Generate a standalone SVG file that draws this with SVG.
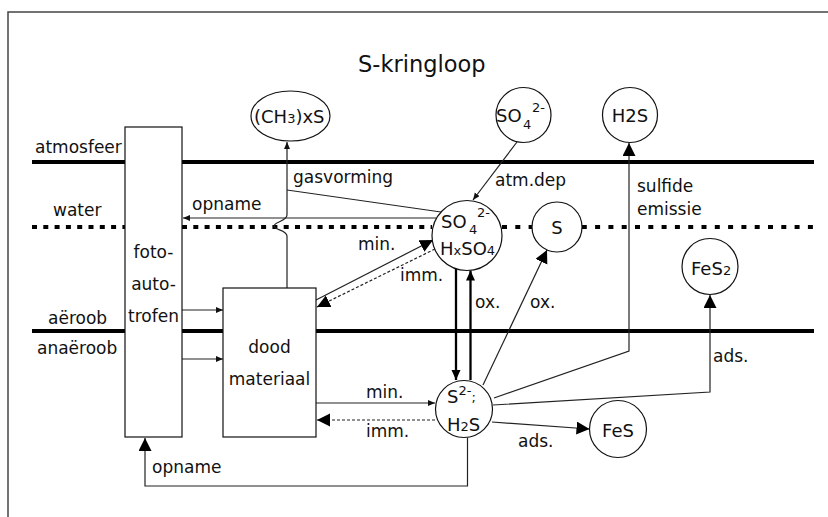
<svg xmlns="http://www.w3.org/2000/svg" width="828" height="517" viewBox="0 0 828 517">
<defs>
<style>
text { font-family: "DejaVu Sans", Verdana, "Liberation Sans", sans-serif; fill: #111; }
.lbl { font-size: 17px; }
.title { font-size: 22.5px; }
.nt { font-size: 18px; }
.mid { text-anchor: middle; }
.node { fill: #fff; stroke: #111; stroke-width: 1.2; }
.thick { stroke: #000; stroke-width: 4; fill: none; }
.dots { stroke: #000; stroke-width: 4; fill: none; stroke-dasharray: 5 6.3; }
.dots2 { stroke: #000; stroke-width: 4; fill: none; stroke-dasharray: 5 8.3; }
.c { stroke: #222; stroke-width: 1.2; fill: none; }
.cd { stroke: #222; stroke-width: 1.2; fill: none; stroke-dasharray: 3 2; }
.ct { stroke: #000; stroke-width: 2.3; fill: none; }
</style>
<marker id="sm" markerUnits="userSpaceOnUse" markerWidth="8" markerHeight="7" refX="7" refY="3" orient="auto"><path d="M0,0 L7,3 L0,6 z" fill="#111"/></marker>
<marker id="md" markerUnits="userSpaceOnUse" markerWidth="11" markerHeight="10" refX="10" refY="4.5" orient="auto"><path d="M0,0 L10,4.5 L0,9 z" fill="#000"/></marker>
<marker id="lg" markerUnits="userSpaceOnUse" markerWidth="14" markerHeight="14" refX="13" refY="6.5" orient="auto"><path d="M0,0 L13,6.5 L0,13 z" fill="#000"/></marker>
</defs>
<rect width="828" height="517" fill="#fff"/>
<path d="M8,517 V12 H828" stroke="#444" stroke-width="1.5" fill="none"/>
<text class="title" x="358" y="72">S-kringloop</text>

<g id="layers">
<line class="thick" x1="32" y1="162" x2="814" y2="162"/>
<line class="thick" x1="32" y1="331" x2="814" y2="331"/>
<line class="dots" x1="32" y1="227" x2="125" y2="227"/>
<line class="dots" x1="182" y1="227" x2="432" y2="227"/>
<line class="dots2" x1="502" y1="227" x2="814" y2="227"/>
<text class="lbl" x="35" y="153">atmosfeer</text>
<text class="lbl" x="53" y="216">water</text>
<text class="lbl" x="48" y="324">aëroob</text>
<text class="lbl" x="37" y="354">anaëroob</text>
</g>

<g id="connectors">
<path class="c" d="M287,288 V236 C287,230 274,230 274,226 C274,222 287,221 287,215 V142" marker-end="url(#sm)"/>
<line class="c" x1="441" y1="212" x2="287" y2="190"/>
<line class="c" x1="436" y1="218" x2="183" y2="218" marker-end="url(#sm)"/>
<line class="c" x1="517" y1="142" x2="473" y2="200" marker-end="url(#sm)"/>
<line class="c" x1="316" y1="300" x2="433" y2="240" marker-end="url(#lg)"/>
<line class="cd" x1="435" y1="249" x2="317" y2="307" marker-end="url(#lg)"/>
<line class="ct" x1="456" y1="269" x2="456" y2="380" marker-end="url(#md)"/>
<line class="ct" x1="470.5" y1="380" x2="470.5" y2="270.5" marker-end="url(#md)"/>
<line class="c" x1="483" y1="385" x2="547" y2="250" marker-end="url(#lg)"/>
<path class="c" d="M494,398 L629,351 V143" marker-end="url(#lg)"/>
<path class="c" d="M493,405 L710,392 V295" marker-end="url(#lg)"/>
<line class="c" x1="492" y1="422" x2="589.5" y2="429" marker-end="url(#lg)"/>
<line class="c" x1="316" y1="403" x2="435" y2="403" marker-end="url(#sm)"/>
<line class="cd" x1="435" y1="420" x2="317" y2="420" marker-end="url(#lg)"/>
<line class="c" x1="182" y1="310" x2="223" y2="310" marker-end="url(#sm)"/>
<line class="c" x1="182" y1="359" x2="223" y2="359" marker-end="url(#sm)"/>
<path class="c" d="M467.5,437.5 V486 H145 V438" marker-end="url(#lg)"/>
<text class="lbl" x="293" y="183">gasvorming</text>
<text class="lbl" x="192" y="210">opname</text>
<text class="lbl" x="495" y="186">atm.dep</text>
<text class="lbl" x="637" y="192">sulfide</text>
<text class="lbl" x="637" y="215">emissie</text>
<text class="lbl" x="358" y="250">min.</text>
<text class="lbl" x="400" y="281">imm.</text>
<text class="lbl" x="475" y="308">ox.</text>
<text class="lbl" x="530" y="308">ox.</text>
<text class="lbl" x="713" y="362">ads.</text>
<text class="lbl" x="366" y="398">min.</text>
<text class="lbl" x="366" y="437">imm.</text>
<text class="lbl" x="518" y="447">ads.</text>
<text class="lbl" x="152" y="473">opname</text>
</g>

<g id="fotoautotrofen">
<rect class="node" x="125" y="127" width="57" height="310"/>
<text class="lbl mid" x="153.5" y="258">foto-</text>
<text class="lbl mid" x="153.5" y="290">auto-</text>
<text class="lbl mid" x="153.5" y="322">trofen</text>
</g>
<g id="doodmateriaal">
<rect class="node" x="223" y="288" width="93" height="149"/>
<text class="lbl mid" x="269.5" y="353">dood</text>
<text class="lbl mid" x="269.5" y="385">materiaal</text>
</g>
<g id="ch3xs">
<ellipse class="node" cx="290.5" cy="116" rx="39.5" ry="25"/>
<text class="nt" x="254" y="123">(CH<tspan font-size="13">3</tspan>)xS</text>
</g>
<g id="so4atm">
<circle class="node" cx="523.5" cy="115" r="27.5"/>
<text class="nt" x="496" y="122">SO<tspan x="523" y="129" font-size="13">4</tspan><tspan x="532" y="112" font-size="13">2-</tspan></text>
</g>
<g id="h2satm">
<circle class="node" cx="630" cy="115" r="27.5"/>
<text class="nt mid" x="630" y="122">H2S</text>
</g>
<g id="so4water">
<circle class="node" cx="467" cy="235.5" r="35"/>
<text class="nt" x="441" y="228">SO<tspan x="469" y="234" font-size="13">4</tspan><tspan x="477" y="217" font-size="13">2-</tspan></text>
<text class="nt" x="440" y="255">H<tspan font-size="13">x</tspan>SO<tspan font-size="13">4</tspan></text>
</g>
<g id="s">
<circle class="node" cx="557" cy="227" r="25"/>
<text class="nt mid" x="557" y="234">S</text>
</g>
<g id="fes2">
<circle class="node" cx="710" cy="266.5" r="28"/>
<text class="nt" x="691" y="275">FeS<tspan font-size="13">2</tspan></text>
</g>
<g id="s2h2s">
<circle class="node" cx="464" cy="409" r="28.5"/>
<text class="nt" x="447" y="403">S<tspan y="395" font-size="13">2-</tspan><tspan y="402" font-size="13">;</tspan></text>
<text class="nt" x="447" y="431">H<tspan font-size="13">2</tspan>S</text>
</g>
<g id="fes">
<circle class="node" cx="618" cy="429" r="28.5"/>
<text class="nt mid" x="618" y="437">FeS</text>
</g>
</svg>
